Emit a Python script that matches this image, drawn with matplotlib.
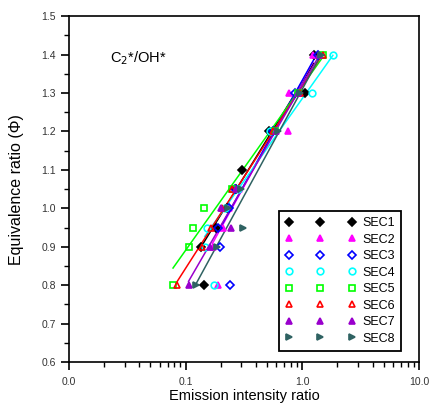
import numpy as np
import matplotlib
matplotlib.use("Agg")
import matplotlib.pyplot as plt
from matplotlib.ticker import FixedLocator, FormatStrFormatter, LogLocator, NullFormatter, MultipleLocator

plt.rcParams['font.family'] = ['Liberation Sans', 'DejaVu Sans']

# equivalence ratio levels per series, and the emission intensity ratio
names = ["SEC1", "SEC2", "SEC3", "SEC4", "SEC5", "SEC6", "SEC7", "SEC8"]
phi = [0.8, 0.9, 0.95, 1.0, 1.05, 1.2, 1.3, 1.4]
sec1 = [0.143, 0.136, 0.183, 0.225, 0.272, 0.52, 1.05, 1.25]
sec2 = [0.19, 0.17, 0.209, 0.235, 0.285, 0.76, 0.77, 1.23]
sec3 = [0.24, 0.196, 0.19, 0.235, 0.267, 0.56, 0.87, 1.37]
sec4 = [0.176, 0.146, 0.153, 0.216, 0.28, 0.53, 1.22, 1.83]
sec5 = [0.078, 0.107, 0.115, 0.145, 0.25, 0.58, 0.92, 1.5]
sec6 = [0.084, 0.138, 0.166, 0.205, 0.25, 0.56, 0.95, 1.5]
sec7 = [0.106, 0.161, 0.246, 0.1995, 0.27, 0.6, 0.92, 1.4]
sec8 = [0.123, 0.186, 0.31, 0.23, 0.3, 0.62, 0.95, 1.44]
# SEC1 at phi 1.1
sec1_extra = (0.304, 1.1)
# first point used in each fit (SEC1-4 leave out phi = 0.8)
fit_start = [1, 1, 1, 1, 0, 0, 0, 0]

colors = ["black", "#FF00FF", "#0000FF", "#00FFFF", "#00FF00", "#FF0000", "#9900CC", "#2F6262"]
markers = ["D", "^", "D", "o", "s", "^", "^", ">"]
filled = [True, True, False, False, False, False, True, True]
msizes = [4, 5, 4, 4.8, 4.6, 4.8, 5, 5]

fig = plt.figure(figsize=(4.31, 4.05), dpi=100)
ax = fig.add_axes([0.160, 0.106, 0.812, 0.854])

all_x = [sec1, sec2, sec3, sec4, sec5, sec6, sec7, sec8]
for i, xs in enumerate(all_x):
    xs = list(xs)
    ys = list(phi)
    if i == 0:
        xs.insert(5, sec1_extra[0])
        ys.insert(5, sec1_extra[1])
    xs = np.array(xs)
    ys = np.array(ys)
    s = fit_start[i]
    c = np.polyfit(np.log10(xs[s:]), ys[s:], 1)
    lx = np.array([xs[s:].min(), xs[s:].max()])
    ax.plot(lx, c[0] * np.log10(lx) + c[1], color=colors[i], lw=1.1, zorder=2)
    ax.plot(xs, ys, ls="none", marker=markers[i], ms=msizes[i],
            mfc=colors[i] if filled[i] else "none", mec=colors[i],
            mew=1.2, label=names[i], zorder=3)

ax.set_xscale("log")
ax.set_xlim(0.01, 10)
ax.set_ylim(0.6, 1.5)
ax.xaxis.set_major_locator(FixedLocator([0.01, 0.1, 1, 10]))
ax.xaxis.set_major_formatter(FormatStrFormatter("%.1f"))
ax.xaxis.set_minor_locator(LogLocator(base=10, subs=np.arange(2, 10)))
ax.xaxis.set_minor_formatter(NullFormatter())
ax.yaxis.set_major_locator(MultipleLocator(0.1))
ax.yaxis.set_major_formatter(FormatStrFormatter("%.1f"))
ax.yaxis.set_minor_locator(MultipleLocator(0.05))
ax.tick_params(which="major", length=6, width=1.2, labelsize=7.5, color="black", labelcolor="#333333")
ax.tick_params(which="minor", length=3.5, width=1.0)
ax.tick_params(axis="x", pad=5)
for sp in ax.spines.values():
    sp.set_linewidth(1.2)

ax.set_xlabel("Emission intensity ratio", fontsize=10.5, labelpad=1)
ax.set_ylabel("Equivalence ratio (\u03a6)", fontsize=11.5, labelpad=12)
ax.text(0.118, 0.868, "C$_2$*/OH*", transform=ax.transAxes, fontsize=10.5)

leg = ax.legend(loc="upper left", bbox_to_anchor=(0.583, 0.455), numpoints=3,
                fontsize=9, handlelength=5.6, handletextpad=0.55, labelspacing=0.36,
                borderpad=0.5, fancybox=False, framealpha=1, edgecolor="black")
leg.get_frame().set_linewidth(1.3)

fig.savefig("out.png", dpi=100)
